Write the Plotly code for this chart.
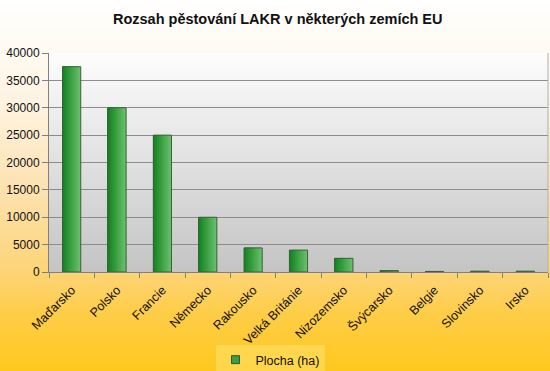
import base64
import struct
import zlib

import plotly.graph_objects as go

# ---- data ----
countries = ["Maďarsko", "Polsko", "Francie", "Německo", "Rakousko", "Velká Británie",
             "Nizozemsko", "Švýcarsko", "Belgie", "Slovinsko", "Irsko"]
plocha_ha = [37500, 30000, 25000, 10000, 4400, 4000, 2500, 250, 100, 150, 150]
y_ticks = [0, 5000, 10000, 15000, 20000, 25000, 30000, 35000, 40000]
series_name = "Plocha (ha)"
title_text = "Rozsah pěstování LAKR v některých zemích EU"

W, H = 550, 371
ML, MR, MT, MB = 49, 2, 53, 99
PW, PH = W - ML - MR, H - MT - MB


def lerp(c1, c2, t):
    return tuple(int(round(a + (b - a) * t)) for a, b in zip(c1, c2))


def grad(stops, n):
    out = []
    for i in range(n):
        t = i / (n - 1)
        for j in range(len(stops) - 1):
            if stops[j][0] <= t <= stops[j + 1][0]:
                tt = (t - stops[j][0]) / (stops[j + 1][0] - stops[j][0])
                out.append(lerp(stops[j][1], stops[j + 1][1], tt))
                break
    return out


def png_uri(rows, width=4):
    raw = b""
    for c in rows:
        raw += b"\x00" + bytes(c) * width
    def chunk(t, d):
        return struct.pack(">I", len(d)) + t + d + struct.pack(">I", zlib.crc32(t + d) & 0xffffffff)
    png = b"\x89PNG\r\n\x1a\n" + chunk(b"IHDR", struct.pack(">IIBBBBB", width, len(rows), 8, 2, 0, 0, 0))
    png += chunk(b"IDAT", zlib.compress(raw)) + chunk(b"IEND", b"")
    return "data:image/png;base64," + base64.b64encode(png).decode()


paper_rows = grad([(0, (255, 255, 255)), (0.12, (255, 251, 243)), (0.27, (254, 243, 226)),
                   (0.51, (253, 226, 176)), (0.73, (253, 212, 120)), (0.85, (254, 205, 70)),
                   (1, (255, 200, 30))], H)
plot_rows = grad([(0, (253, 253, 253)), (1, (196, 196, 196))], PH)

fig = go.Figure()

# bars with horizontal gradient (light right -> dark left), drawn as overlaid bars
BW = 0.4
N = 10
light, dark = (104, 190, 106), (22, 134, 36)
for k in range(N):
    t = k / (N - 1)
    c = lerp(light, dark, t)
    fig.add_trace(go.Bar(
        x=countries, y=plocha_ha, width=BW * (1 - k / N), offset=-BW / 2,
        marker=dict(color="rgb(%d,%d,%d)" % c, line=dict(width=0)),
        name=series_name, showlegend=False, hoverinfo="skip"))
# outline
fig.add_trace(go.Bar(
    x=countries, y=plocha_ha, width=BW, offset=-BW / 2,
    marker=dict(color="rgba(0,0,0,0)", line=dict(color="#3c5e3c", width=1)),
    name=series_name, showlegend=False))
# legend entry (no visible mark in the plot)
fig.add_trace(go.Scatter(
    x=[None], y=[None], mode="markers",
    marker=dict(symbol="square", size=8, color="#3a9e44", line=dict(color="#2f5a2f", width=1)),
    name=series_name, showlegend=True, hoverinfo="skip"))

fig.update_layout(
    width=W, height=H,
    margin=dict(l=ML, r=MR, t=MT, b=MB, pad=0, autoexpand=False),
    paper_bgcolor="#ffd040",
    plot_bgcolor="#dddddd",
    barmode="overlay",
    font=dict(family="Liberation Sans, Arial, sans-serif", size=12, color="#111111"),
    title=dict(text="<b>" + title_text + "</b>", x=0.505, xanchor="center", xref="container",
               y=1 - 19 / H, yanchor="middle", yref="container",
               font=dict(size=14.5, color="#111111")),
    images=[
        dict(source=png_uri(paper_rows), xref="paper", yref="paper",
             x=-ML / PW, y=1 + MT / PH, sizex=W / PW, sizey=H / PH,
             sizing="stretch", xanchor="left", yanchor="top", layer="below"),
        dict(source=png_uri(plot_rows), xref="paper", yref="paper",
             x=0, y=1, sizex=1, sizey=1,
             sizing="stretch", xanchor="left", yanchor="top", layer="below"),
    ],
    xaxis=dict(
        type="category", tickson="boundaries", ticks="outside", ticklen=5,
        tickcolor="#808080", tickangle=-45, showgrid=False, showline=True,
        linecolor="#808080", linewidth=1, tickfont=dict(size=12.5, color="#111111"),
        ticklabelstandoff=5,
        range=[-0.5, len(countries) - 0.5], automargin=False),
    yaxis=dict(
        range=[0, 40000], tickvals=y_ticks, ticktext=[str(v) for v in y_ticks],
        ticks="outside", ticklen=6, tickcolor="#808080", showgrid=True,
        gridcolor="#8c8c8c", gridwidth=1, showline=True, linecolor="#808080",
        zeroline=False, tickfont=dict(size=12, color="#111111"), automargin=False),
    legend=dict(orientation="h", x=(270 - ML) / PW, xanchor="center",
                y=(272 - 360) / PH, yanchor="middle",
                bgcolor="rgba(255,226,110,0.55)", font=dict(size=12.5, color="#111111"),
                itemwidth=30),
    shapes=[dict(type="line", xref="paper", yref="paper", x0=1, x1=1, y0=0, y1=1,
                 line=dict(color="#b0b0b0", width=1))],
)

fig.write_html("out.html", config={"displayModeBar": False},
               post_script="document.body.style.margin='0';document.body.style.padding='0';")
